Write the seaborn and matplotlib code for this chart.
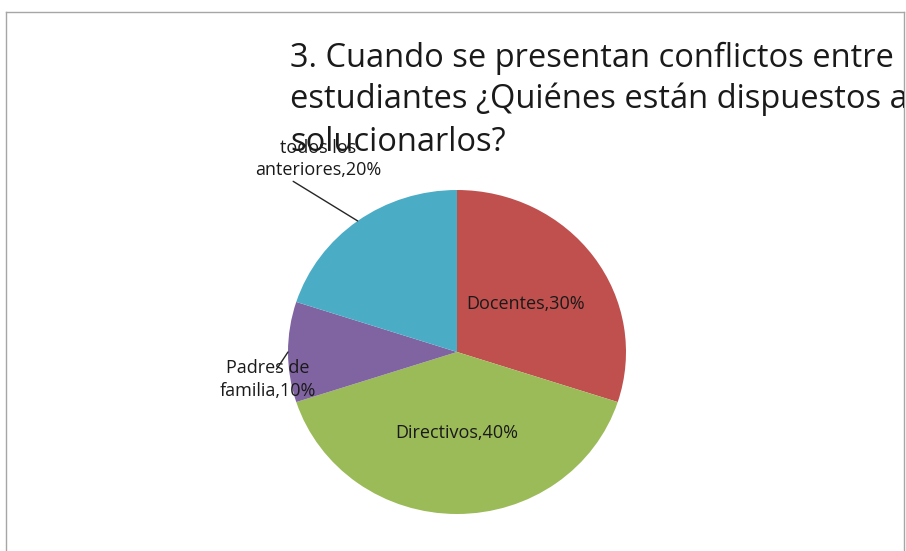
import matplotlib
matplotlib.use("Agg")
import matplotlib.pyplot as plt
import seaborn as sns
import numpy as np

# ---- data ----
categories = ["Docentes", "Directivos", "Padres de\nfamilia", "todos los\nanteriores"]
values = [30, 40, 10, 20]
colors = ["#C0504D", "#9BBB59", "#8064A2", "#4BACC6"]
title_lines = ["3. Cuando se presentan conflictos entre",
               "estudiantes ¿Quiénes están dispuestos a",
               "solucionarlos?"]

sns.set_theme(style="white")
plt.rcParams["font.family"] = ["Open Sans", "DejaVu Sans"]

W, H = 906, 551
fig = plt.figure(figsize=(W / 100, H / 100), dpi=100)
fig.patch.set_facecolor("white")

# frame axes (chart border)
fx0, fx1, fy_top = 6, 904, 11.5
frame = fig.add_axes([fx0 / W, -0.1, (fx1 - fx0) / W, (H - fy_top) / H + 0.1])
frame.set_xlim(0, 1); frame.set_ylim(0, 1)
frame.set_xticks([]); frame.set_yticks([])
for s in frame.spines.values():
    s.set_color("#A6A6A6"); s.set_linewidth(1.0)
frame.spines["bottom"].set_visible(False)

def fig_to_frame(px, py):
    inv = frame.transAxes.inverted()
    return inv.transform(fig.transFigure.transform((px / W, 1 - py / H)))

# title (clipped by border)
baselines = [66.7, 108.5, 151.5]
for line, by in zip(title_lines, baselines):
    tx, ty = fig_to_frame(290, by)
    frame.text(tx, ty, line, ha="left", va="baseline", fontsize=23.5,
               color="#1a1a1a", transform=frame.transAxes, clip_on=True,
               zorder=5)

# pie axes
cx, cy, rx, ry = 457, 352, 169, 162
lim = 1.3
aw, ah = 2 * lim * rx, 2 * lim * ry
ax = fig.add_axes([(cx - aw / 2) / W, (H - (cy + ah / 2)) / H, aw / W, ah / H])
wedges, _ = ax.pie(values, colors=colors, startangle=90, counterclock=False,
                   wedgeprops=dict(linewidth=0))
ax.set_aspect("auto")
ax.set_xlim(-lim, lim); ax.set_ylim(-lim, lim)
ax.axis("off")

label_color = "#1a1a1a"
fs = 13
for i, (w, cat, v) in enumerate(zip(wedges, categories, values)):
    ang = np.deg2rad((w.theta1 + w.theta2) / 2)
    ex, ey = np.cos(ang), np.sin(ang)
    label = f"{cat},{v}%"
    if i < 2:
        ax.text(0.5 * ex, 0.5 * ey, label, ha="center", va="center",
                fontsize=fs, color=label_color)
    elif i == 2:
        ax.annotate(label, xy=(ex, ey), xytext=(-1.12, -0.17),
                    ha="center", va="center", fontsize=fs, color=label_color,
                    linespacing=1.3,
                    arrowprops=dict(arrowstyle="-", color="#262626", lw=1,
                                    patchA=None, shrinkA=0, shrinkB=0,
                                    relpos=(0.59, 0.75)))
    else:
        ax.annotate(label, xy=(ex, ey), xytext=(-0.82, 1.19),
                    ha="center", va="center", fontsize=fs, color=label_color,
                    linespacing=1.3,
                    arrowprops=dict(arrowstyle="-", color="#262626", lw=1,
                                    patchA=None, shrinkA=0, shrinkB=0,
                                    relpos=(0.3, -0.05)))

fig.savefig("out.png", dpi=100)
